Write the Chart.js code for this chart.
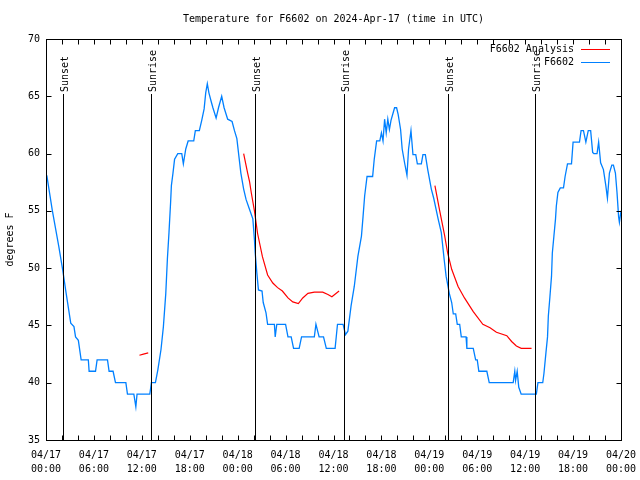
<!DOCTYPE html>
<html>
<head>
<meta charset="utf-8">
<script src="https://cdn.jsdelivr.net/npm/chart.js@4"></script>
<style>
html, body { margin: 0; padding: 0; background: #fff; }
</style>
</head>
<body>
<canvas id="chart" width="640" height="480"></canvas>
<script>
// hours since 04/17 00:00 UTC
const blueHours = [0.1, 0.8, 1.6, 2.1, 2.5, 3.1, 3.5, 3.7, 4.05, 4.4, 5.3, 5.4, 6.2, 6.4, 7.7, 7.9, 8.4, 8.7, 10.0, 10.2,
    11.0, 11.25, 11.4, 13.0, 13.2, 13.7, 14.0, 14.4, 14.7, 15.0, 15.2, 15.4, 15.6, 15.7, 15.9, 16.1, 16.5, 17.0, 17.2, 17.5,
    17.8, 18.5, 18.7, 19.2, 19.5, 19.8, 20.0, 20.2, 20.4, 20.7, 20.9, 21.3, 21.6, 22.0, 22.3, 22.75, 23.3, 23.6, 23.9, 24.2,
    24.4, 24.75, 25.05, 25.5, 25.9, 26.1, 26.2, 26.4, 26.6, 27.05, 27.2, 27.55, 27.75, 28.6, 28.7, 28.9, 30.0, 30.3, 30.7, 31.0,
    31.7, 32.0, 33.6, 33.8, 34.2, 34.75, 35.1, 36.2, 36.5, 37.2, 37.5, 37.8, 38.2, 38.6, 39.05, 39.5, 39.7, 39.9, 40.2, 40.9,
    41.1, 41.4, 41.8, 42.0, 42.2, 42.4, 42.6, 42.8, 43.0, 43.2, 43.65, 43.9, 44.1, 44.4, 44.6, 44.9, 45.2, 45.4, 45.7, 45.95,
    46.3, 46.5, 47.0, 47.2, 47.5, 47.8, 48.25, 48.55, 49.1, 49.5, 49.85, 50.1, 50.5, 50.8, 51.0, 51.3, 51.5, 51.8, 52.0, 52.6,
    52.7, 53.5, 53.8, 54.0, 54.2, 55.2, 55.5, 58.5, 58.7, 58.8, 59.0, 59.2, 59.5, 61.4, 61.6, 62.2, 62.35, 62.6, 62.8, 62.9,
    63.1, 63.3, 63.4, 63.6, 63.8, 63.9, 64.1, 64.4, 64.8, 65.0, 65.3, 65.8, 66.0, 66.8, 67.0, 67.3, 67.6, 67.9, 68.2, 68.45,
    68.6, 69.0, 69.2, 69.45, 69.8, 70.1, 70.3, 70.55, 70.85, 71.05, 71.3, 71.5, 71.7, 71.8, 72.0];
const blueTemps = [58.1, 55.0, 51.9, 49.8, 47.9, 45.2, 44.9, 44.0, 43.7, 42.0, 42.0, 41.0, 41.0, 42.0, 42.0, 41.0, 41.0, 40.0, 40.0, 39.0,
    39.0, 37.9, 39.0, 39.0, 40.0, 40.0, 41.1, 42.9, 44.9, 47.8, 50.8, 53.1, 55.7, 57.2, 58.3, 59.5, 60.0, 60.0, 59.1, 60.4,
    61.1, 61.1, 62.0, 62.0, 62.9, 63.9, 65.3, 66.1, 65.3, 64.5, 64.0, 63.1, 64.0, 65.0, 64.0, 63.0, 62.8, 62.0, 61.3, 59.5,
    58.3, 56.9, 56.0, 55.1, 54.3, 52.5, 51.3, 49.6, 48.1, 48.0, 47.0, 46.1, 45.1, 45.1, 44.0, 45.1, 45.1, 44.0, 44.0, 43.0,
    43.0, 44.0, 44.0, 45.1, 44.0, 44.0, 43.0, 43.0, 45.1, 45.1, 44.2, 44.5, 46.7, 48.4, 51.0, 52.8, 54.5, 56.3, 58.0, 58.0,
    59.5, 61.1, 61.1, 61.8, 61.1, 63.0, 61.8, 63.0, 62.1, 62.9, 64.0, 64.0, 63.4, 62.1, 60.4, 59.2, 58.1, 60.4, 62.0, 59.9,
    59.9, 59.1, 59.1, 59.9, 59.9, 58.6, 56.9, 56.1, 54.3, 53.1, 50.8, 49.3, 47.8, 47.0, 46.0, 46.0, 45.1, 45.1, 44.0, 44.0,
    43.0, 43.0, 42.0, 42.0, 41.0, 41.0, 40.0, 40.0, 41.0, 40.2, 41.0, 39.6, 39.0, 39.0, 40.0, 40.0, 40.8, 42.6, 44.0, 45.8,
    47.5, 49.3, 51.3, 52.8, 54.3, 55.4, 56.6, 57.0, 57.0, 58.0, 59.1, 59.1, 61.0, 61.0, 62.0, 62.0, 61.0, 62.0, 62.0, 60.1,
    60.0, 60.0, 61.0, 59.2, 58.6, 57.2, 56.1, 58.3, 59.0, 59.0, 58.3, 56.6, 54.5, 54.0, 55.0];

// analysis series, null breaks the line
const redHours = [11.7, 12.2, 12.8, 18.0,
    24.75, 25.25, 25.5, 25.7, 26.1, 26.5, 27.1, 27.75, 28.4, 29.0, 29.6, 30.3, 30.9, 31.6, 32.15, 32.8, 33.6, 34.65, 35.3, 35.8, 36.7, 42.0,
    48.7, 49.3, 49.9, 50.3, 50.8, 51.6, 52.4, 53.5, 54.7, 55.6, 56.4, 57.7, 58.3, 58.9, 59.5, 60.8];
const redTemps = [42.4, 42.5, 42.6, null,
    60.0, 58.3, 57.5, 56.6, 55.0, 53.0, 51.0, 49.4, 48.7, 48.3, 48.0, 47.4, 47.05, 46.9, 47.4, 47.8, 47.9, 47.9, 47.7, 47.5, 48.0, null,
    57.2, 55.0, 52.9, 51.3, 49.9, 48.4, 47.4, 46.2, 45.1, 44.8, 44.4, 44.1, 43.6, 43.2, 43.0, 43.0];

const sunHours = [2.13, 13.2, 26.22, 37.3, 50.34, 61.28];
const sunLabels = ['Sunset', 'Sunrise', 'Sunset', 'Sunrise', 'Sunset', 'Sunrise'];

const xTickLabels = [['04/17', '00:00'], ['04/17', '06:00'], ['04/17', '12:00'], ['04/17', '18:00'],
    ['04/18', '00:00'], ['04/18', '06:00'], ['04/18', '12:00'], ['04/18', '18:00'],
    ['04/19', '00:00'], ['04/19', '06:00'], ['04/19', '12:00'], ['04/19', '18:00'], ['04/20', '00:00']];

const titulo = 'Temperature for F6602 on 2024-Apr-17 (time in UTC)';
const fuente = '10px "DejaVu Sans Mono"';

const toPoints = (hs, ts) => hs.map((h, i) => ({ x: h, y: ts[i] }));

const decoracion = {
    id: 'decoracion',
    afterDatasetsDraw(chart) {
        const { ctx, chartArea: a, scales: { x, y } } = chart;
        ctx.save();
        ctx.strokeStyle = '#000';
        ctx.lineWidth = 1;
        ctx.fillStyle = '#000';
        ctx.font = fuente;

        // sunrise / sunset lines
        sunHours.forEach((h, i) => {
            const px = Math.round(x.getPixelForValue(h)) + 0.5;
            ctx.beginPath();
            ctx.moveTo(px, 94);
            ctx.lineTo(px, a.bottom);
            ctx.stroke();
            ctx.save();
            ctx.translate(px + 4, 92);
            ctx.rotate(-Math.PI / 2);
            ctx.textAlign = 'left';
            ctx.textBaseline = 'alphabetic';
            ctx.fillText(sunLabels[i], 0, 0);
            ctx.restore();
        });

        // box
        const l = Math.round(a.left) + 0.5, r = Math.round(a.right) + 0.5;
        const t = Math.round(a.top) + 0.5, b = Math.round(a.bottom) + 0.5;
        ctx.strokeRect(l, t, r - l, b - t);

        // inward ticks
        ctx.beginPath();
        x.ticks.forEach(tk => {
            const px = Math.round(x.getPixelForValue(tk.value)) + 0.5;
            ctx.moveTo(px, b); ctx.lineTo(px, b - 5);
            ctx.moveTo(px, t); ctx.lineTo(px, t + 5);
        });
        y.ticks.forEach(tk => {
            const py = Math.round(y.getPixelForValue(tk.value)) + 0.5;
            ctx.moveTo(l, py); ctx.lineTo(l + 5, py);
            ctx.moveTo(r, py); ctx.lineTo(r - 5, py);
        });
        ctx.stroke();

        // title and y label
        ctx.textAlign = 'center';
        ctx.textBaseline = 'middle';
        ctx.fillText(titulo, (a.left + a.right) / 2, 19);
        ctx.save();
        ctx.translate(10, (a.top + a.bottom) / 2);
        ctx.rotate(-Math.PI / 2);
        ctx.fillText('degrees F', 0, 0);
        ctx.restore();

        // legend
        ctx.textAlign = 'right';
        chart.data.datasets.forEach((ds, i) => {
            const ly = 49 + i * 13;
            ctx.fillStyle = '#000';
            ctx.fillText(ds.label, 574, ly);
            ctx.strokeStyle = ds.borderColor;
            ctx.beginPath();
            ctx.moveTo(581, ly + 0.5);
            ctx.lineTo(610, ly + 0.5);
            ctx.stroke();
        });
        ctx.restore();
    }
};

const ctx = document.getElementById('chart');

const grafica = new Chart(ctx, {
    type: 'line',
    data: {
        datasets: [
            {
                label: 'F6602 Analysis',
                data: toPoints(redHours, redTemps),
                borderColor: '#ff0000',
                borderWidth: 1.2,
                pointRadius: 0,
                tension: 0,
                spanGaps: false,
            },
            {
                label: 'F6602',
                data: toPoints(blueHours, blueTemps),
                borderColor: '#0080ff',
                borderWidth: 1.3,
                pointRadius: 0,
                tension: 0,
            }
        ]
    },
    options: {
        responsive: false,
        animation: false,
        events: [],
        layout: { padding: { top: 39, right: 19, left: 0, bottom: 0 } },
        plugins: { legend: { display: false }, tooltip: { enabled: false } },
        scales: {
            x: {
                type: 'linear',
                min: 0,
                max: 72,
                grid: { display: false, drawTicks: false },
                border: { display: false },
                afterFit: s => { s.height = 40; s.paddingRight = 0; s.paddingLeft = 0; },
                ticks: {
                    stepSize: 2,
                    autoSkip: false,
                    maxRotation: 0,
                    padding: 8,
                    color: '#000',
                    font: { family: 'DejaVu Sans Mono', size: 10, lineHeight: 1.4 },
                    callback: v => (v % 6 === 0 ? xTickLabels[v / 6] : '')
                }
            },
            y: {
                min: 35,
                max: 70,
                grid: { display: false, drawTicks: false },
                border: { display: false },
                afterFit: s => { s.width = 46; },
                ticks: {
                    stepSize: 5,
                    padding: 6,
                    color: '#000',
                    font: { family: 'DejaVu Sans Mono', size: 10 }
                }
            }
        }
    },
    plugins: [decoracion]
});
</script>
</body>
</html>
